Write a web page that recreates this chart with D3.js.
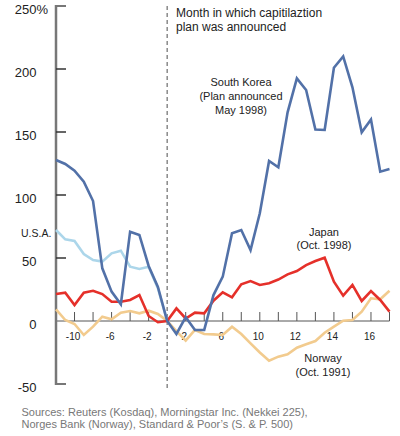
<!DOCTYPE html>
<html><head><meta charset="utf-8">
<script src="https://cdn.jsdelivr.net/npm/d3@7"></script>
<style>body{margin:0;background:#fff}svg{display:block}text{font-family:"Liberation Sans",Arial,Helvetica,sans-serif}</style>
</head><body><svg id="c" width="400" height="436"></svg>
<script>
const months = [-12,-11,-10,-9,-8,-7,-6,-5,-4,-3,-2,-1,0,1,2,3,4,5,6,7,8,9,10,11,12,13,14,15,16,17,18,19,20,21,22,23,24];
const southKorea = [127.8,124.6,119.3,110.6,95.2,41.8,23.3,13.3,70.9,68.3,43.7,27,0,-10.3,3,-7.1,-7.1,20.6,35.2,69.6,72.2,56.3,85.5,127,122,165.6,192.6,183.3,152,151.6,201,210,185.5,149.8,160,118.5,120.6];
const usa = [72.2,64.8,63.5,53.2,48.4,47.1,53.7,55.8,43.1,41.3,43.1,26,0];
const japan = [21.4,22.5,12.7,22.5,24,21.4,15.3,15.3,16.7,20.6,4,-1,0,10,2,6.6,6.1,16.1,22.8,18.8,29.1,31.7,28.6,30,32.9,37,39.7,44.4,47.6,50.2,31.2,20.1,28.6,15.9,23.8,16.7,7.4];
const norway = [9.3,0.8,-2.4,-11.1,-4.5,3.4,1.3,6.6,7.9,6.1,8.2,5.6,0,-8,-15.6,-7.1,-10.3,-10.6,-11.1,-4.5,-10.3,-17.7,-25,-31.5,-28.3,-26.4,-21.2,-18.5,-15.9,-9.3,-4.5,0.2,0.8,7.4,18,17.2,24];
const yTicks = [250,200,150,100,50,0,-50];
const xTickPos = [-10,-8,-6,-4,-2,2,4,6,8,10,12,14,16,18,20,22,24];
const xLabelPos = [-10,-6,-2,2,6,10,14,18,22];
const xLabelText = ["-10","-6","-2","2","6","10","12","14","16"];

const svg = d3.select("#c");
const x = d3.scaleLinear().domain([-12,24]).range([56,389.5]);
const y = d3.scaleLinear().domain([-50,250]).range([384,6]);

// dashed announcement line
svg.append("line").attr("x1",x(0)).attr("x2",x(0)).attr("y1",6).attr("y2",388)
  .attr("stroke","#777").attr("stroke-width",1.3).attr("stroke-dasharray","4,3");

// zero line
svg.append("line").attr("x1",56).attr("x2",x(24)).attr("y1",y(0)).attr("y2",y(0))
  .attr("stroke","#555").attr("stroke-width",1);
// x ticks
svg.selectAll(".xt").data(xTickPos).enter().append("line")
  .attr("x1",d=>x(d)).attr("x2",d=>x(d)).attr("y1",y(0)).attr("y2",y(0)-9)
  .attr("stroke","#555").attr("stroke-width",1);
svg.selectAll(".xl").data(xLabelPos).enter().append("text")
  .attr("x",d=>x(d)-1.5).attr("y",y(0)+18.5).attr("text-anchor","middle")
  .attr("font-size",10).attr("fill","#222").text((d,i)=>xLabelText[i]);

// y axis
svg.append("line").attr("x1",56).attr("x2",56).attr("y1",y(250)-1).attr("y2",y(-50)+1)
  .attr("stroke","#777").attr("stroke-width",2.5);
svg.selectAll(".yt").data(yTicks.filter(d=>d!==0)).enter().append("line")
  .attr("x1",56).attr("x2",66).attr("y1",d=>y(d)).attr("y2",d=>y(d))
  .attr("stroke",d=>(d===250||d===-50)?"#777":"#333").attr("stroke-width",d=>(d===250||d===-50)?2:1.5);
svg.selectAll(".yl").data(yTicks).enter().append("text")
  .attr("x",36.5).attr("y",d=>y(d)+8).attr("text-anchor","end")
  .attr("font-size",13).attr("fill","#222").text(d=>d);
svg.append("text").attr("x",36.5).attr("y",y(250)+8).attr("font-size",13).attr("fill","#222").text("%");

const line = d3.line().x((d,i)=>x(months[i])).y(d=>y(d));
const series = [
  {v:norway,c:"#f2cb8e"},
  {v:usa,c:"#acd6ea"},
  {v:japan,c:"#e5302a"},
  {v:southKorea,c:"#5271a8"}
];
svg.selectAll(".s").data(series).enter().append("path")
  .attr("d",d=>line(d.v)).attr("fill","none").attr("stroke",d=>d.c)
  .attr("stroke-width",2.6).attr("stroke-linejoin","miter");

// annotations
function label(lines,xp,y0,size,anchor,dy){
  const t = svg.append("text").attr("font-size",size).attr("fill","#222").attr("text-anchor",anchor);
  lines.forEach((s,i)=>t.append("tspan").attr("x",xp).attr("y",y0+i*dy).text(s));
}
label(["Month in which capitilaztion","plan was announced"],176,17,12,"start",14);
label(["South Korea","(Plan announced","May 1998)"],241,86,11,"middle",13.8);
label(["Japan"],324,236,11,"middle",13);
label(["(Oct. 1998)"],324,249,11,"middle",13);
label(["Norway","(Oct. 1991)"],323,362,11,"middle",13.8);
label(["U.S.A."],21,237,10.5,"start",12);
const src = svg.append("text").attr("font-size",11).attr("fill","#777");
src.append("tspan").attr("x",21.5).attr("y",415.5).text("Sources: Reuters (Kosdaq), Morningstar Inc. (Nekkei 225),");
src.append("tspan").attr("x",21.5).attr("y",428).text("Norges Bank (Norway), Standard & Poor’s (S. & P. 500)");
</script></body></html>
